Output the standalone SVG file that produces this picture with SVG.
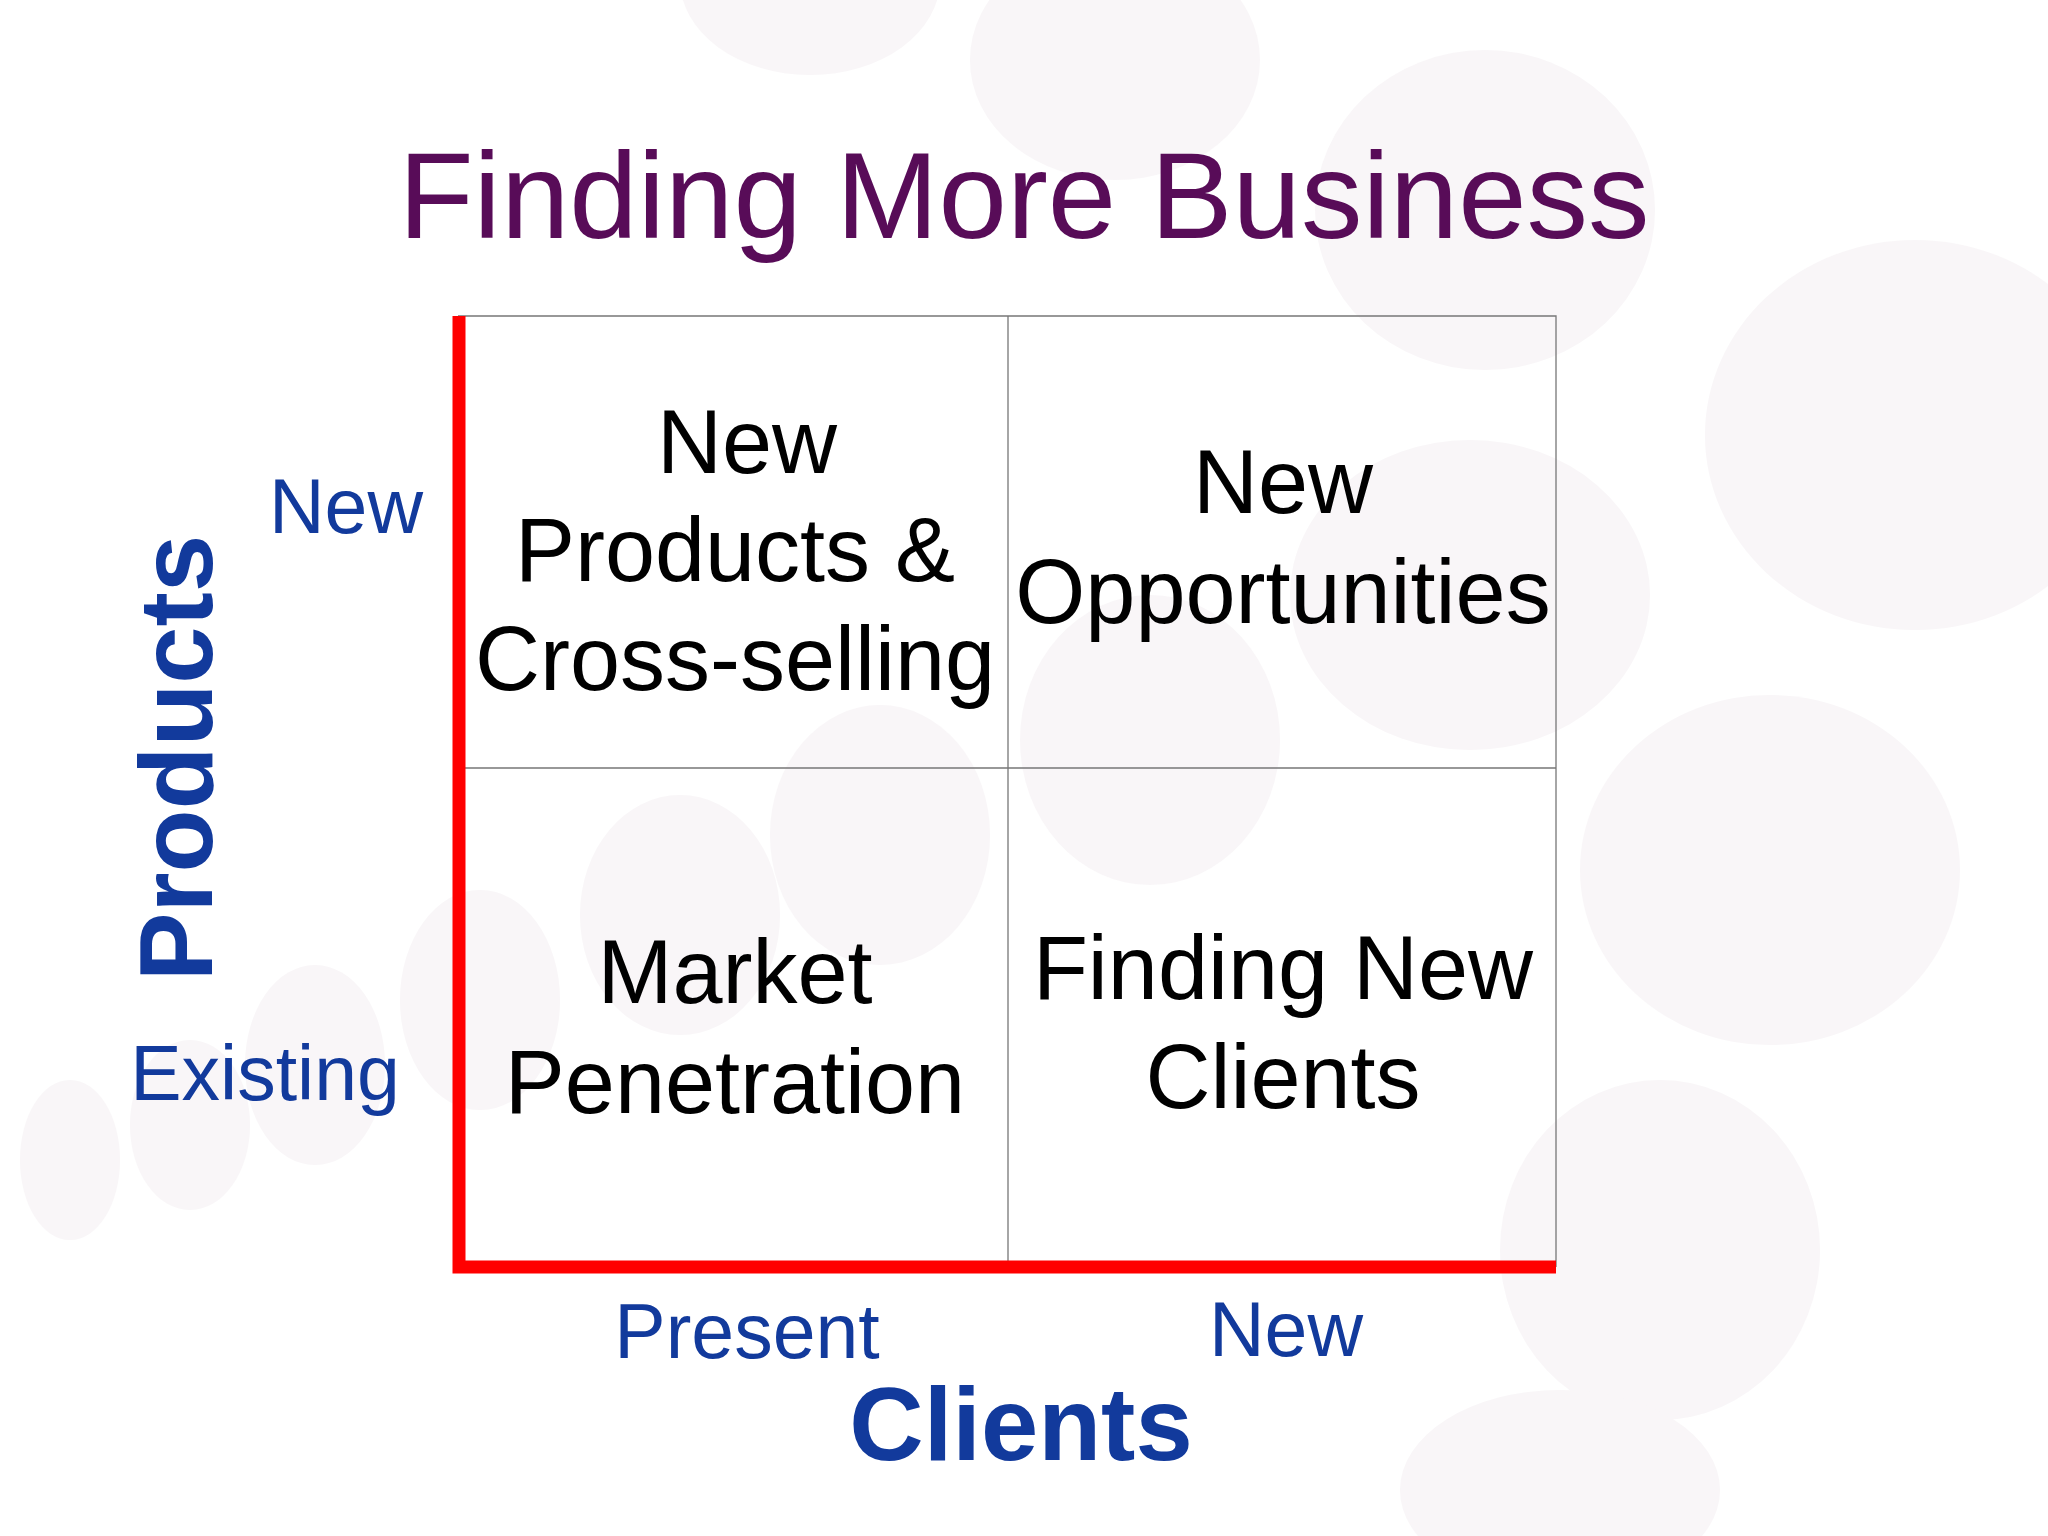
<svg xmlns="http://www.w3.org/2000/svg" width="2048" height="1536" viewBox="0 0 2048 1536">
<style>
.bg{fill:#f4eef2}
.cell{font-family:"Liberation Sans",Arial,sans-serif;font-size:90px;fill:#000;text-anchor:middle}
.ax{font-family:"Liberation Sans",Arial,sans-serif;font-size:77px;fill:#123a9c;text-anchor:middle}
.axb{font-family:"Liberation Sans",Arial,sans-serif;font-size:103px;font-weight:bold;fill:#123a9c;text-anchor:middle}
.grid{stroke:#777;stroke-width:1.3;fill:none}
.red{stroke:#ff0000;stroke-width:13;fill:none}
</style>
<rect width="2048" height="1536" fill="#ffffff"/>
<g id="background" opacity="0.5">
<ellipse class="bg" cx="810" cy="-20" rx="130" ry="95"/>
<ellipse class="bg" cx="1115" cy="60" rx="145" ry="120"/>
<ellipse class="bg" cx="1485" cy="210" rx="170" ry="160"/>
<ellipse class="bg" cx="1915" cy="435" rx="210" ry="195"/>
<ellipse class="bg" cx="1470" cy="595" rx="180" ry="155"/>
<ellipse class="bg" cx="1770" cy="870" rx="190" ry="175"/>
<ellipse class="bg" cx="1150" cy="740" rx="130" ry="145"/>
<ellipse class="bg" cx="880" cy="835" rx="110" ry="130"/>
<ellipse class="bg" cx="680" cy="915" rx="100" ry="120"/>
<ellipse class="bg" cx="1660" cy="1250" rx="160" ry="170"/>
<ellipse class="bg" cx="1560" cy="1490" rx="160" ry="100"/>
<ellipse class="bg" cx="480" cy="1000" rx="80" ry="110"/>
<ellipse class="bg" cx="315" cy="1065" rx="70" ry="100"/>
<ellipse class="bg" cx="190" cy="1125" rx="60" ry="85"/>
<ellipse class="bg" cx="70" cy="1160" rx="50" ry="80"/>
</g>
<text x="1024" y="238" font-family="Liberation Sans, Arial, sans-serif" font-size="123" fill="#580c58" text-anchor="middle">Finding More Business</text>
<g id="connectors">
<path class="grid" d="M458 316H1556V1267M1008 316V1267M458 768H1556"/>
<path class="red" d="M459 316V1267H1556"/>
</g>
<g id="q1"><text class="cell" x="747" y="473">New</text><text class="cell" x="735" y="581">Products &amp;</text><text class="cell" x="735" y="690">Cross-selling</text></g>
<g id="q2"><text class="cell" x="1283" y="513">New</text><text class="cell" x="1283" y="623">Opportunities</text></g>
<g id="q3"><text class="cell" x="735" y="1003">Market</text><text class="cell" x="735" y="1113">Penetration</text></g>
<g id="q4"><text class="cell" x="1283" y="999">Finding New</text><text class="cell" x="1283" y="1108">Clients</text></g>
<g id="labels">
<text class="ax" x="346" y="533">New</text>
<text class="ax" x="265" y="1100">Existing</text>
<text class="axb" transform="translate(212,758) rotate(-90)">Products</text>
<text class="ax" x="747" y="1358">Present</text>
<text class="ax" x="1286" y="1356">New</text>
<text class="axb" x="1021" y="1460">Clients</text>
</g>
</svg>
